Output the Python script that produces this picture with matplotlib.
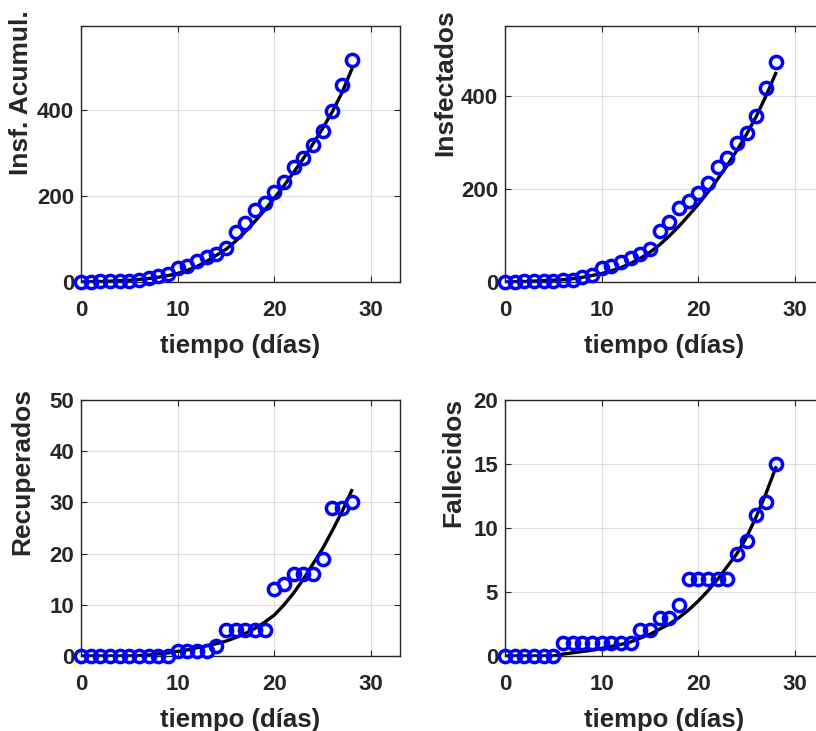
import numpy as np
import matplotlib.pyplot as plt

plt.rcParams["font.family"] = ["Liberation Sans", "DejaVu Sans"]
plt.rcParams["font.weight"] = "bold"

dias = np.arange(0, 29)

# datos observados
acumulados = [1, 1, 2, 2, 3, 3, 4, 10, 14, 19, 33, 37, 49, 57, 66, 79, 117, 138,
              167, 184, 210, 232, 268, 289, 319, 350, 397, 457, 516]
infectados = [1, 1, 2, 2, 3, 3, 4, 5, 11, 16, 30, 34, 44, 52, 61, 71, 110, 129,
              160, 174, 191, 213, 247, 267, 298, 321, 356, 417, 472]
recuperados = [0, 0, 0, 0, 0, 0, 0, 0, 0, 0, 1, 1, 1, 1, 2, 5, 5, 5,
               5, 5, 13, 14, 16, 16, 16, 19, 29, 29, 30]
fallecidos = [0, 0, 0, 0, 0, 0, 1, 1, 1, 1, 1, 1, 1, 1, 2, 2, 3, 3,
              4, 6, 6, 6, 6, 6, 8, 9, 11, 12, 15]

# curvas del modelo ajustado
mod_acum = [0, 0.5, 1, 2, 3, 4, 6, 8, 11, 15, 20, 27, 36, 48, 62, 76, 95, 117,
            141, 167, 195, 224, 255, 287, 321, 357, 396, 440, 494]
mod_inf = [0, 0.5, 1, 2, 3, 4, 5, 7, 10, 14, 18, 24, 31, 40, 51, 64, 80, 99,
           120, 143, 167, 193, 221, 251, 283, 318, 356, 400, 448]
mod_rec = [0, 0, 0, 0, 0, 0, 0.1, 0.2, 0.4, 0.6, 0.9, 1.2, 1.6, 2.0, 2.4, 2.9,
           3.6, 4.4, 5.4, 6.6, 8.0, 10.0, 12.3, 15.0, 18.0, 21.0, 24.5, 28.2, 32.3]
mod_fal = [0, 0, 0, 0, 0, 0, 0.15, 0.25, 0.35, 0.45, 0.6, 0.75, 0.9, 1.1, 1.4,
           1.7, 2.1, 2.5, 3.0, 3.6, 4.3, 5.1, 6.0, 7.0, 8.0, 9.3, 10.9, 12.7, 14.7]

paneles = [
    (acumulados, mod_acum, 'Insf. Acumul.', 595, [0, 200, 400], (-0.150, 0.738)),
    (infectados, mod_inf, 'Insfectados', 550, [0, 200, 400], (-0.150, 0.777)),
    (recuperados, mod_rec, 'Recuperados', 50, [0, 10, 20, 30, 40, 50], (-0.145, 0.719)),
    (fallecidos, mod_fal, 'Fallecidos', 20, [0, 5, 10, 15, 20], (-0.125, 0.758)),
]

W, H = 816, 731
fig = plt.figure(figsize=(W / 100, H / 100), dpi=100)

# posiciones en pixeles: (izq, arriba, der, abajo)
cajas = [(81, 26, 400, 282), (505, 26, 824, 282),
         (81, 400, 400, 656), (505, 400, 824, 656)]

txt = '#262626'
for (obs, mod, etiqueta, ymax, yt, lc), (x0, y0, x1, y1) in zip(paneles, cajas):
    ax = fig.add_axes([x0 / W, (H - y1) / H, (x1 - x0) / W, (y1 - y0) / H])
    ax.plot(dias, mod, color='k', lw=2.4, zorder=2)
    ax.plot(dias, obs, 'o', mfc='none', mec=(0, 0, 1), ms=8.8, mew=2.5,
            zorder=3, clip_on=False)
    ax.set_xlim(0, 33)
    ax.set_ylim(0, ymax)
    ax.set_xticks([0, 10, 20, 30])
    ax.set_yticks(yt)
    ax.grid(True, color='#dedede', lw=0.8)
    ax.set_axisbelow(True)
    ax.tick_params(direction='in', top=True, right=True, length=4,
                   labelsize=16, colors=txt, labelcolor=txt)
    ax.tick_params(axis='x', pad=13)
    ax.tick_params(axis='y', pad=5)
    for s in ax.spines.values():
        s.set_color(txt)
        s.set_linewidth(1.0)
    for lab in ax.get_xticklabels() + ax.get_yticklabels():
        lab.set_fontweight('bold')
    ax.set_xlabel('tiempo (días)', fontsize=18.5, fontweight='bold', color=txt,
                  labelpad=9)
    ax.set_ylabel(etiqueta, fontsize=19, fontweight='bold', color=txt)
    ax.yaxis.set_label_coords(*lc)

fig.savefig('out.png', dpi=100)
